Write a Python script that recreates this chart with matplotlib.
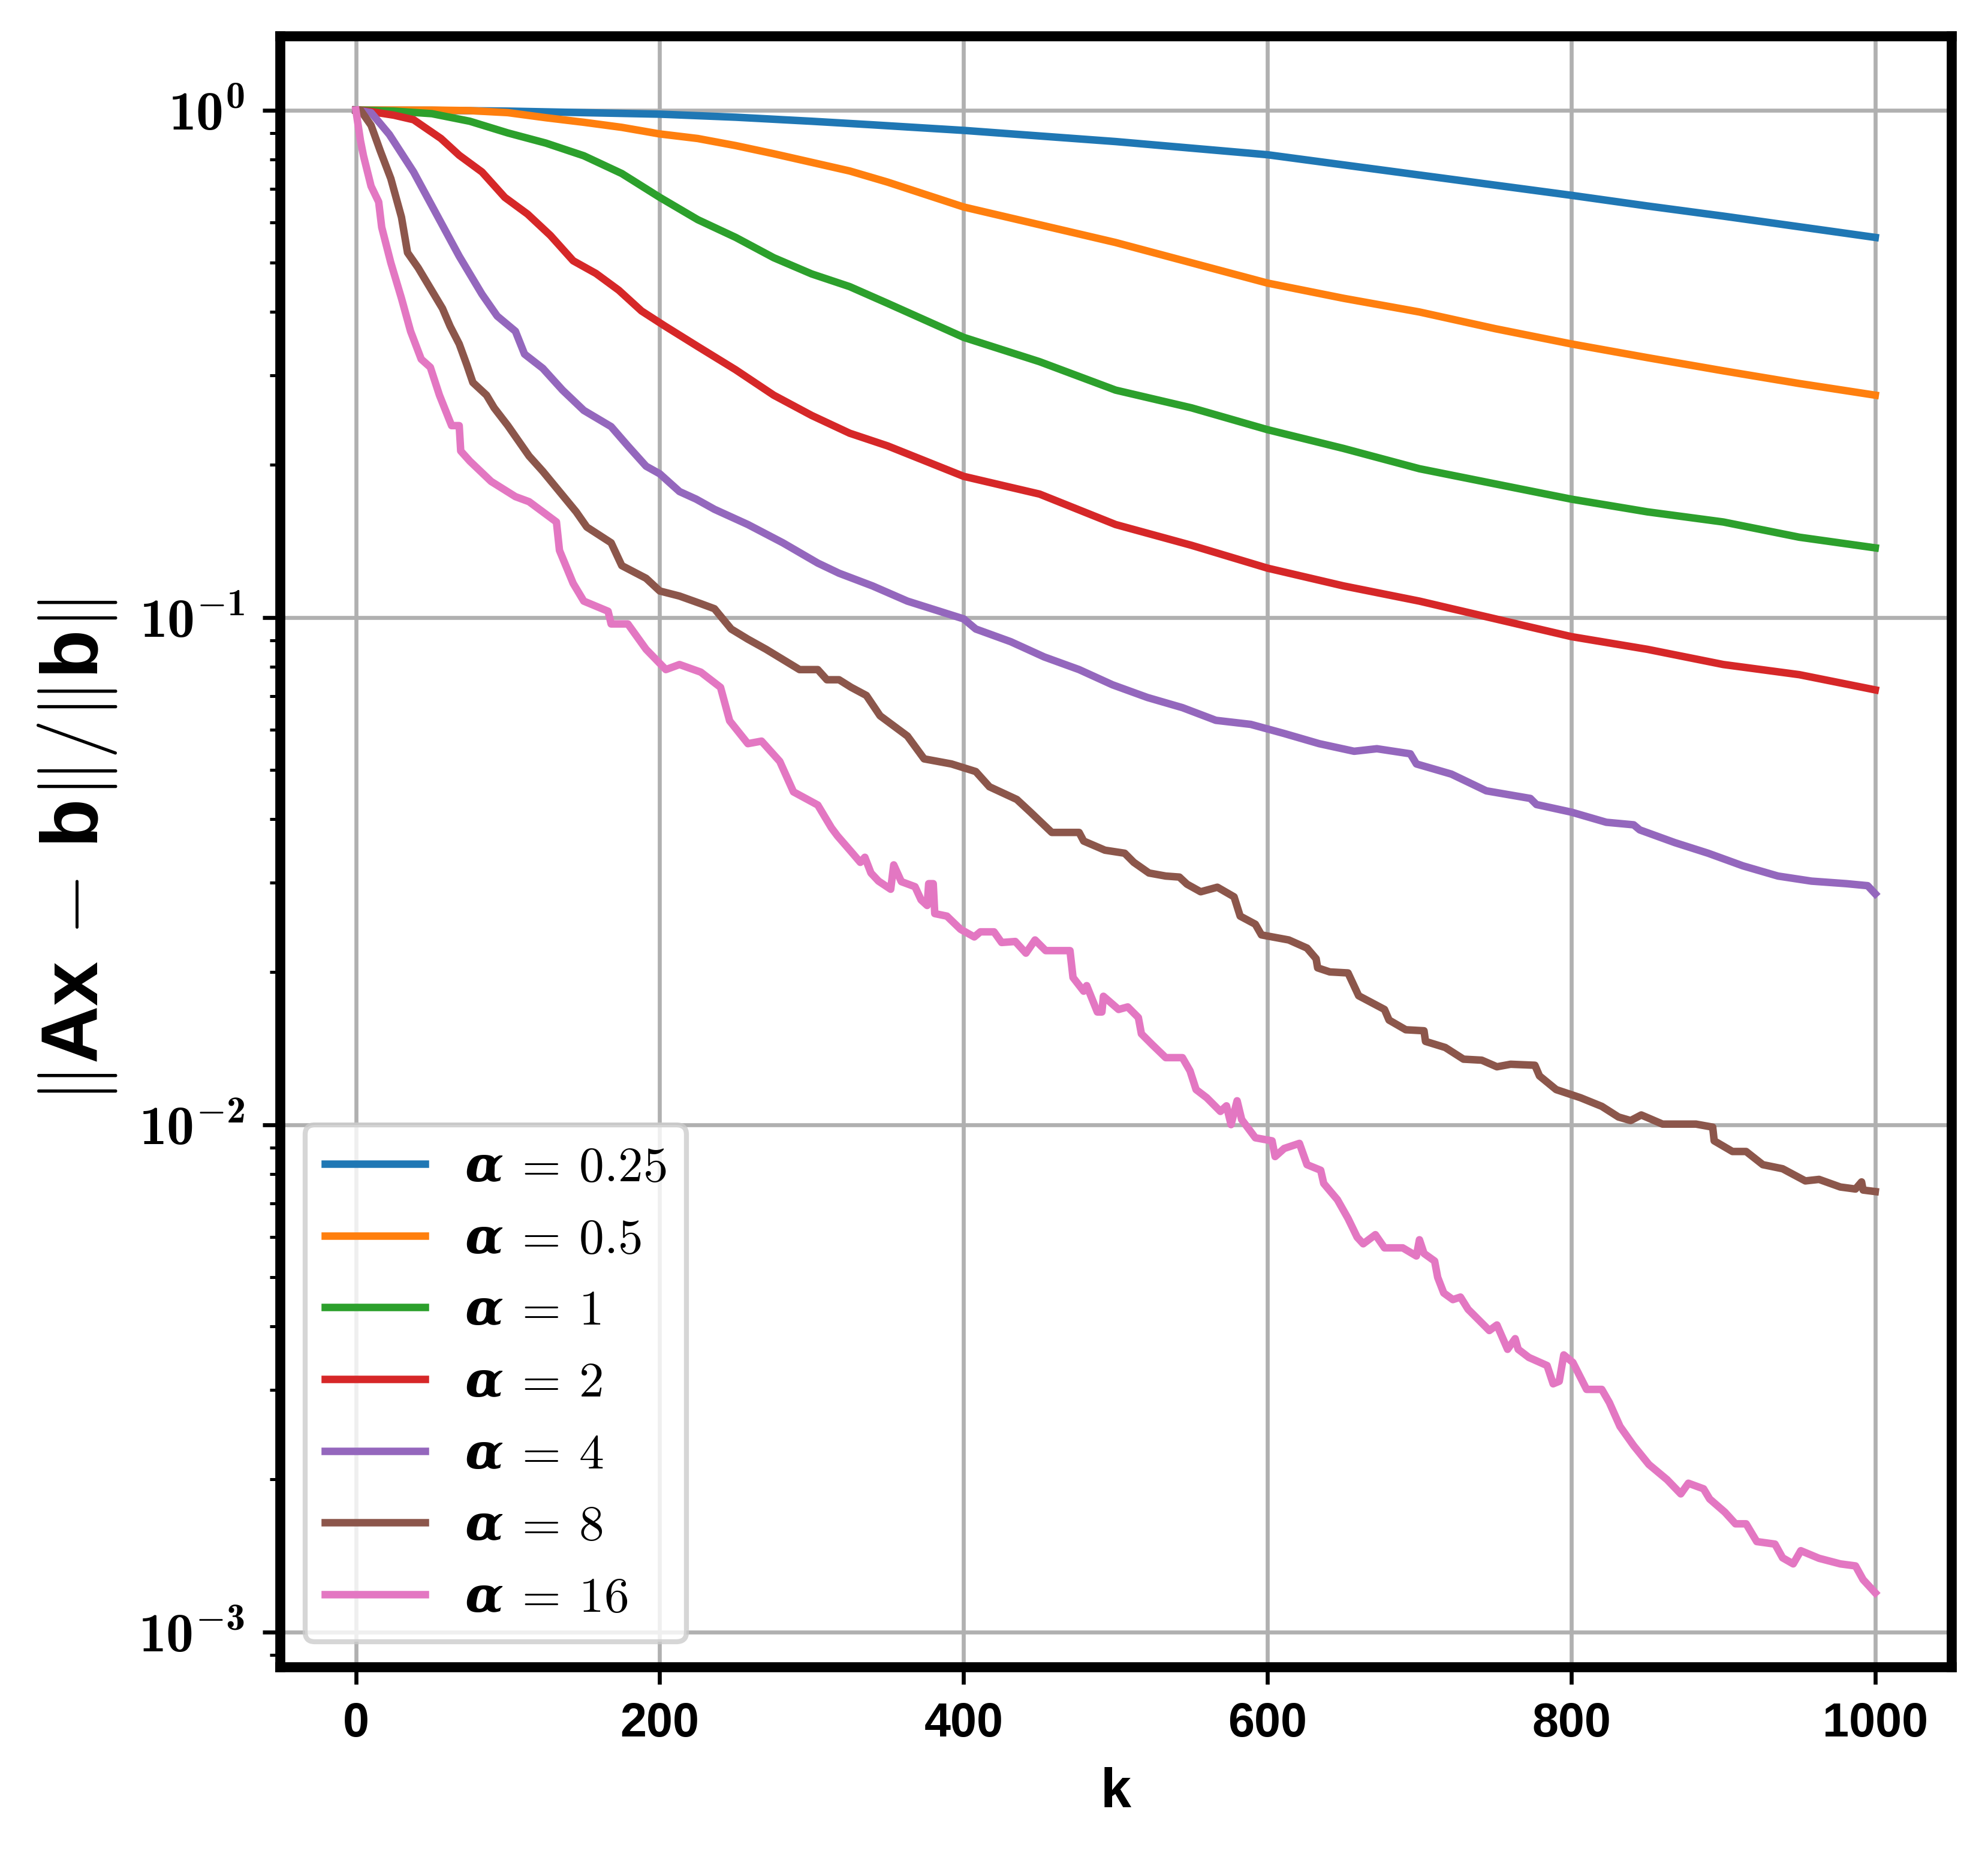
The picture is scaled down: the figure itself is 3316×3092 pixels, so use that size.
import numpy as np
import matplotlib
matplotlib.use('Agg')
import matplotlib.pyplot as plt
from matplotlib.ticker import FuncFormatter, NullFormatter

# fonts: CM-like math for ticks/legend, bold sans for text
plt.rcParams['mathtext.fontset'] = 'custom'
plt.rcParams['mathtext.rm'] = 'cmr10'
plt.rcParams['mathtext.it'] = 'cmmi10'
plt.rcParams['mathtext.bf'] = 'cmb10'
plt.rcParams['mathtext.sf'] = 'DejaVu Serif:italic:bold'
plt.rcParams['mathtext.tt'] = 'Liberation Sans:bold'
plt.rcParams['font.family'] = ['Liberation Sans', 'DejaVu Sans']
plt.rcParams['font.weight'] = 'bold'

# values, stored as log10 of the relative residual
k_025 = [0, 50, 100, 150, 200, 250, 300, 340, 400, 450, 500, 550, 600, 650, 700, 750, 800, 850, 900, 950, 1000]
r_025 = [0, -0.0005, -0.002, -0.005, -0.008, -0.014, -0.022, -0.029, -0.040, -0.051, -0.062, -0.075, -0.088,
         -0.108, -0.128, -0.148, -0.168, -0.189, -0.209, -0.230, -0.251]

k_05 = [0, 50, 75, 100, 125, 150, 175, 200, 225, 250, 275, 300, 325, 350, 400, 450, 500, 550, 600, 650, 700,
        750, 800, 850, 900, 950, 1000]
r_05 = [0, 0, -0.001, -0.005, -0.015, -0.024, -0.034, -0.047, -0.056, -0.070, -0.086, -0.103, -0.120, -0.142,
        -0.191, -0.226, -0.261, -0.301, -0.341, -0.371, -0.398, -0.431, -0.461, -0.488, -0.514, -0.539, -0.562]

k_1 = [0, 25, 50, 75, 100, 125, 150, 175, 200, 225, 250, 275, 300, 325, 350, 400, 450, 500, 550, 600, 650, 700,
       750, 800, 850, 900, 950, 1000]
r_1 = [0, -0.002, -0.007, -0.022, -0.045, -0.065, -0.090, -0.125, -0.172, -0.216, -0.251, -0.291, -0.323, -0.348,
       -0.381, -0.448, -0.496, -0.552, -0.587, -0.630, -0.667, -0.707, -0.737, -0.767, -0.792, -0.812, -0.842, -0.863]

k_2 = [0, 10, 25, 38, 56, 68, 83, 98, 113, 128, 143, 158, 173, 188, 203, 225, 250, 275, 300, 325, 350, 400, 450,
       500, 550, 600, 650, 700, 750, 800, 850, 900, 950, 1000]
r_2 = [0, -0.003, -0.010, -0.019, -0.056, -0.089, -0.122, -0.172, -0.205, -0.247, -0.297, -0.322, -0.355, -0.396,
       -0.425, -0.466, -0.512, -0.562, -0.602, -0.637, -0.662, -0.722, -0.757, -0.817, -0.858, -0.903, -0.938,
       -0.968, -1.003, -1.038, -1.063, -1.093, -1.113, -1.143]

k_4 = [0, 10, 22, 38, 53, 68, 83, 93, 105, 111, 123, 136, 150, 168, 179, 191, 200, 213, 224, 236, 258, 281, 304,
       318, 340, 363, 400, 408, 431, 453, 476, 498, 521, 544, 566, 589, 611, 634, 657, 672, 694, 698, 721, 744,
       773, 777, 800, 823, 841, 845, 868, 890, 913, 936, 958, 981, 995, 1000]
r_4 = [0, -0.005, -0.048, -0.122, -0.205, -0.288, -0.363, -0.406, -0.436, -0.481, -0.509, -0.552, -0.592, -0.624,
       -0.662, -0.702, -0.717, -0.752, -0.767, -0.787, -0.817, -0.853, -0.893, -0.913, -0.938, -0.968, -1.003,
       -1.023, -1.048, -1.078, -1.103, -1.133, -1.158, -1.178, -1.203, -1.211, -1.229, -1.249, -1.264, -1.259,
       -1.269, -1.289, -1.309, -1.342, -1.357, -1.369, -1.384, -1.404, -1.409, -1.419, -1.444, -1.465, -1.490,
       -1.510, -1.520, -1.525, -1.529, -1.545]

k_8 = [0, 3, 10, 16, 23, 30, 34, 41, 50, 57, 62, 68, 73, 77, 86, 91, 100, 107, 114, 123, 134, 145, 152, 168, 175,
       191, 200, 213, 227, 236, 247, 258, 270, 281, 292, 304, 310, 318, 326, 336, 345, 363, 374, 392, 408, 417,
       435, 444, 458, 476, 479, 493, 506, 512, 522, 533, 542, 547, 556, 567, 578, 582, 592, 596, 605, 614, 626,
       632, 633, 641, 653, 660, 677, 680, 691, 703, 704, 717, 729, 741, 751, 760, 776, 779, 790, 806, 820, 831,
       839, 846, 860, 882, 893, 894, 906, 915, 926, 939, 954, 963, 977, 987, 991, 992, 1000]
r_8 = [0, 0, -0.030, -0.080, -0.135, -0.211, -0.281, -0.311, -0.356, -0.391, -0.426, -0.461, -0.502, -0.537,
       -0.562, -0.587, -0.622, -0.652, -0.682, -0.712, -0.752, -0.792, -0.822, -0.853, -0.898, -0.923, -0.948,
       -0.958, -0.973, -0.983, -1.023, -1.043, -1.063, -1.083, -1.103, -1.103, -1.123, -1.123, -1.138, -1.154,
       -1.194, -1.234, -1.279, -1.289, -1.304, -1.334, -1.359, -1.384, -1.424, -1.424, -1.441, -1.459, -1.465,
       -1.483, -1.504, -1.510, -1.512, -1.526, -1.541, -1.532, -1.551, -1.589, -1.605, -1.626, -1.631, -1.636,
       -1.652, -1.673, -1.691, -1.699, -1.701, -1.746, -1.773, -1.794, -1.813, -1.815, -1.836, -1.848, -1.871,
       -1.873, -1.886, -1.881, -1.883, -1.904, -1.931, -1.947, -1.964, -1.985, -1.992, -1.981, -1.999, -1.999,
       -2.005, -2.032, -2.053, -2.053, -2.079, -2.087, -2.111, -2.108, -2.123, -2.127, -2.113, -2.129, -2.132]

k_16 = [0, 1, 3, 5, 10, 15, 17, 23, 30, 36, 43, 49, 55, 63, 68, 69, 75, 89, 105, 114, 132, 134, 143, 150, 166,
        168, 179, 191, 204, 213, 227, 240, 246, 258, 267, 279, 288, 304, 313, 317, 326, 332, 335, 339, 344, 352,
        354, 359, 368, 372, 376, 377, 380, 381, 389, 398, 407, 411, 420, 425, 434, 441, 447, 454, 470, 472, 479,
        481, 488, 491, 492, 502, 508, 515, 517, 524, 533, 544, 549, 553, 560, 569, 573, 576, 580, 583, 592, 603,
        605, 611, 621, 626, 635, 637, 646, 653, 659, 663, 671, 677, 689, 698, 700, 703, 710, 712, 716, 722, 727,
        732, 739, 746, 751, 758, 763, 765, 772, 784, 788, 792, 795, 801, 810, 820, 825, 832, 841, 851, 863, 872,
        877, 887, 891, 901, 908, 915, 922, 934, 939, 946, 951, 963, 977, 987, 992, 1000]
r_16 = [0, -0.020, -0.060, -0.090, -0.150, -0.181, -0.231, -0.301, -0.371, -0.436, -0.491, -0.507, -0.562, -0.622,
        -0.622, -0.672, -0.692, -0.732, -0.762, -0.772, -0.812, -0.868, -0.933, -0.968, -0.988, -1.013, -1.013,
        -1.063, -1.103, -1.093, -1.108, -1.138, -1.204, -1.249, -1.244, -1.284, -1.344, -1.370, -1.415, -1.431,
        -1.462, -1.483, -1.473, -1.504, -1.520, -1.536, -1.488, -1.521, -1.531, -1.557, -1.568, -1.525, -1.525,
        -1.584, -1.589, -1.615, -1.630, -1.620, -1.620, -1.641, -1.639, -1.662, -1.636, -1.657, -1.657, -1.710,
        -1.737, -1.726, -1.778, -1.778, -1.747, -1.773, -1.768, -1.789, -1.821, -1.842, -1.868, -1.868, -1.894,
        -1.931, -1.947, -1.974, -1.963, -2.000, -1.953, -1.990, -2.026, -2.032, -2.063, -2.047, -2.037, -2.079,
        -2.090, -2.116, -2.148, -2.185, -2.222, -2.235, -2.217, -2.243, -2.243, -2.259, -2.227, -2.254, -2.269,
        -2.301, -2.332, -2.345, -2.340, -2.364, -2.385, -2.406, -2.395, -2.443, -2.422, -2.443, -2.459, -2.475,
        -2.511, -2.506, -2.454, -2.469, -2.522, -2.522, -2.548, -2.595, -2.633, -2.670, -2.700, -2.728, -2.707,
        -2.718, -2.738, -2.764, -2.787, -2.787, -2.822, -2.827, -2.854, -2.866, -2.840, -2.855, -2.866, -2.870,
        -2.897, -2.923]

alphas = ['0.25', '0.5', '1', '2', '4', '8', '16']
ks = [k_025, k_05, k_1, k_2, k_4, k_8, k_16]
rs = [r_025, r_05, r_1, r_2, r_4, r_8, r_16]

fig = plt.figure(figsize=(3316 / 600, 3092 / 600), dpi=600)
ax = fig.add_axes([0.1408, 0.1009, 0.9815 - 0.1408, 0.9806 - 0.1009])

for a, k, r in zip(alphas, ks, rs):
    ax.plot(k, 10.0 ** np.array(r), lw=1.5, label=r'$\mathsf{\alpha}\:=\:%s$' % a)

ax.set_yscale('log')
ax.grid(True, which='major')
for s in ax.spines.values():
    s.set_linewidth(2)

ax.yaxis.set_major_formatter(FuncFormatter(lambda v, p: r'$\mathbf{10^{%d}}$' % int(round(np.log10(v)))))
ax.yaxis.set_minor_formatter(NullFormatter())
ax.tick_params(axis='x', labelsize=9.5)
ax.tick_params(axis='y', labelsize=11)

ax.set_xlabel('k', fontsize=11, fontweight='bold')
ax.set_ylabel(r'$\Vert\mathtt{Ax}\,-\,\mathtt{b}\Vert/\Vert\mathtt{b}\Vert$', fontsize=16)

ax.legend(loc='lower left', fontsize=10)

fig.savefig('out.png', dpi=600)
